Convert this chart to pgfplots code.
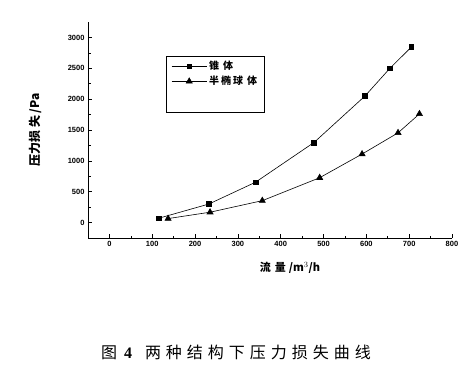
\documentclass[border=0pt]{standalone}
\usepackage{fontspec}
\setmainfont{Liberation Sans}
\newfontfamily\cjk{Noto Sans CJK SC}
\newfontfamily\serifmain{Liberation Serif}
\usepackage{pgfplots}
\pgfplotsset{compat=1.18}
\newcommand{\gp}[1][4pt]{\hspace{#1}}
\begin{document}
\begin{tikzpicture}
\useasboundingbox (0,0) rectangle (468pt,376pt);
\begin{axis}[
  scale only axis, width=364pt, height=216pt,
  at={(88pt,138pt)}, anchor=south west,
  xmin=-50, xmax=800, ymin=-250, ymax=3250,
  axis x line=bottom, axis y line=left,
  axis line style={-, line width=0.8pt},
  xtick={0,100,...,800}, ytick={0,500,...,3000},
  minor x tick num=1, minor y tick num=1,
  tick align=inside,
  major tick length=4pt, minor tick length=2.5pt,
  tick style={line width=0.6pt, black},
  /pgf/number format/assume math mode=true,
  /pgf/number format/1000 sep={},
  ticklabel style={font=\fontsize{7.5}{8}\selectfont\bfseries},
  legend style={at={(0.214,0.843)}, anchor=north west, draw=black, line width=0.8pt,
    font=\cjk\bfseries\fontsize{10}{12}\selectfont, inner xsep=5pt, inner ysep=3pt,
    row sep=1pt, legend cell align=left},
  legend image code/.code={\draw[mark repeat=2,mark phase=2] plot coordinates {(0cm,0cm) (0.62cm,0cm) (1.24cm,0cm)};},
  legend image post style={line width=0.6pt},
]
\addplot[black, line width=0.6pt, mark=square*, mark size=2.4pt] coordinates {
  (115,70) (232,300) (341,653) (478,1299) (597,2052) (655,2500) (705,2843)
};
\addlegendentry{锥\gp 体}
\addplot[black, line width=0.6pt, mark=triangle*, mark size=3.5pt] coordinates {
  (137,65) (235,168) (357,355) (491,727) (590,1110) (674,1454) (724,1761)
};
\addlegendentry{半\gp[2pt]椭\gp[2pt]球\gp 体}
\addlegendimage{empty legend}
\addlegendentry{\rule{0pt}{14pt}}
\end{axis}
\node[rotate=90, font=\cjk\bfseries\fontsize{12}{14}\selectfont] at (35pt,246pt) {压力损\gp[3pt]失\gp[2pt]/Pa};
\node[font=\cjk\bfseries\fontsize{11}{13}\selectfont] at (290pt,108pt) {流\gp 量\gp[3pt]/m$^{3}$/h};
\node[font=\cjk\fontsize{16}{18}\selectfont] at (236pt,24pt) {图\gp[7pt]{\serifmain\bfseries 4}\gp[13pt]两\gp[5pt]种\gp[5pt]结\gp[5pt]构\gp[5pt]下\gp[5pt]压\gp[5pt]力\gp[5pt]损\gp[5pt]失\gp[5pt]曲\gp[5pt]线};
\end{tikzpicture}
\end{document}
